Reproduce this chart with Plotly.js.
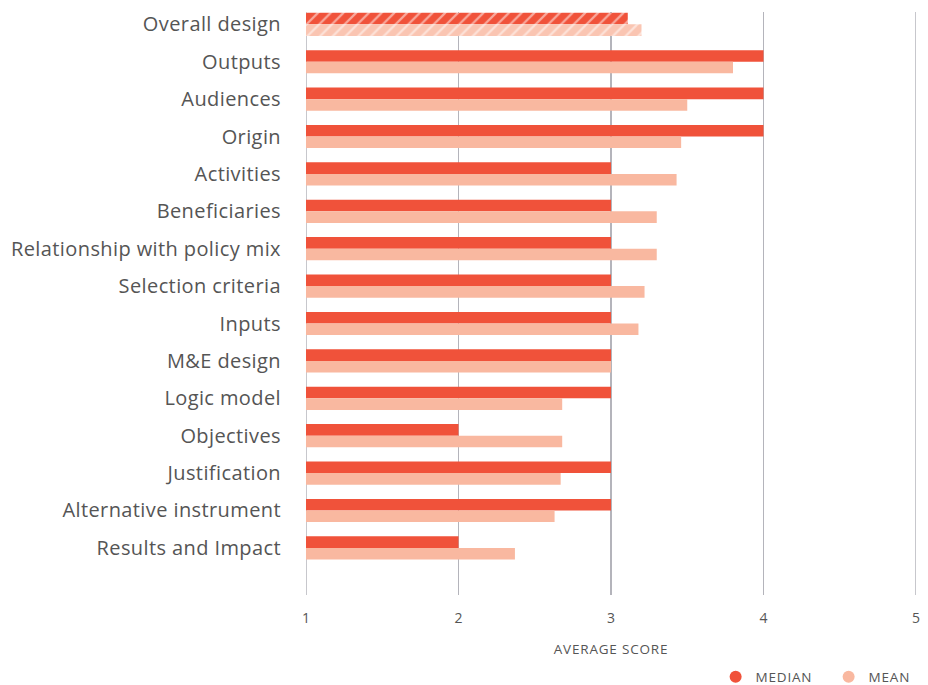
<!DOCTYPE html>
<html>
<head>
<meta charset="utf-8">
<script src="https://cdn.plot.ly/plotly-3.0.1.min.js"></script>
<style>html,body{margin:0;padding:0;background:#fff;}#chart{width:928px;height:685px;}
.legendtext{letter-spacing:0.8px;}
.g-xtitle text{letter-spacing:0.8px;}
.ytick text{letter-spacing:0.4px;}
</style>
</head>
<body>
<div id="chart"></div>
<script>
const categories = ["Overall design","Outputs","Audiences","Origin","Activities","Beneficiaries","Relationship with policy mix","Selection criteria","Inputs","M&E design","Logic model","Objectives","Justification","Alternative instrument","Results and Impact"];
const medianValues = [3.11,4,4,4,3,3,3,3,3,3,3,2,3,3,2];
const meanValues = [3.2,3.8,3.5,3.46,3.43,3.3,3.3,3.22,3.18,3.0,2.68,2.68,2.67,2.63,2.37];
const xTicks = [1,2,3,4,5];
const medianColor = "#f0523a";
const meanColor = "#f9b8a0";
const hatch = categories.map((c,i)=> i===0 ? "/" : "");
const font = "'Open Sans', Roboto, sans-serif";
const gridColor = "#b4b4bb";

const traces = [
  {type:"bar", orientation:"h", name:"MEDIAN", y:categories, x:medianValues.map(v=>v-1), base:1, offsetgroup:"a",
   marker:{color:medianColor, pattern:{shape:hatch, fgcolor:"#ffffff", bgcolor:medianColor, fillmode:"overlay", size:9, solidity:0.25}},
   showlegend:false, hoverinfo:"x+y"},
  {type:"bar", orientation:"h", name:"MEAN", y:categories, x:meanValues.map(v=>v-1), base:1, offsetgroup:"b",
   marker:{color:meanColor, pattern:{shape:hatch, fgcolor:"#ffffff", bgcolor:"#fac5b2", fillmode:"overlay", size:9, solidity:0.25}},
   showlegend:false, hoverinfo:"x+y"},
  {type:"scatter", mode:"markers", name:"MEDIAN", x:[null], y:[null], marker:{color:medianColor, size:12, symbol:"circle"}},
  {type:"scatter", mode:"markers", name:"MEAN", x:[null], y:[null], marker:{color:meanColor, size:12, symbol:"circle"}}
];

const layout = {
  width:928, height:685,
  margin:{l:306, r:12, t:12, b:90, autoexpand:false},
  paper_bgcolor:"#fff", plot_bgcolor:"#fff",
  barmode:"group", bargap:0.38, bargroupgap:0,
  font:{family:font, color:"#555"},
  xaxis:{range:[1,5], tickvals:xTicks, ticktext:xTicks.map(String), showgrid:true, gridcolor:gridColor, gridwidth:1.5,
         zeroline:false, showline:false, tickfont:{size:14, color:"#555"}, ticks:"", ticklabelstandoff:13,
         title:{text:"AVERAGE SCORE", font:{size:13.5, color:"#555"}, standoff:18}, fixedrange:true},
  yaxis:{type:"category", categoryorder:"array", categoryarray:categories, range:[15.26,-0.33], showgrid:false,
         zeroline:false, tickfont:{size:20, color:"#555"}, ticks:"", ticklabelstandoff:24, fixedrange:true},
  legend:{orientation:"h", x:1.042, xanchor:"right", y:-0.114, yanchor:"top", font:{size:13.5, color:"#555"}, itemwidth:30, entrywidth:68, entrywidthmode:"pixels"},
  shapes:xTicks.filter(v=>v===1||v===5).map(v=>({type:"line", xref:"x", yref:"paper", x0:v, x1:v, y0:0, y1:1, line:{color:gridColor, width:1.5}, layer:"below"}))
};
Plotly.newPlot("chart", traces, layout, {displayModeBar:false, staticPlot:true});
</script>
</body>
</html>
